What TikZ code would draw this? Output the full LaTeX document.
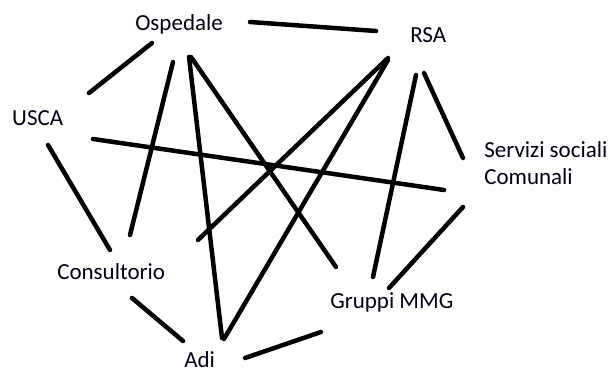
\documentclass[tikz,border=0pt]{standalone}
\usepackage{fontspec}
\setmainfont{Carlito}
\usepackage{tikz}

\begin{document}
\begin{tikzpicture}[x=1pt, y=-1pt, line width=4.5pt, line cap=round,
  every node/.style={inner sep=0pt, anchor=base west, font=\fontsize{23}{27}\selectfont, text=black!92!blue}]

\useasboundingbox (0, 0) rectangle (612, 371);

\node (ospedale) at (133, 31) {Ospedale};
\node (rsa) at (408, 43) {RSA};
\node (usca) at (10, 126) {USCA};
\node [align=left] (servizi) at (482, 185) {Servizi sociali\\Comunali};
\node (consultorio) at (55, 279) {Consultorio};
\node (gruppi) at (328, 308) {Gruppi MMG};
\node (adi) at (182, 367) {Adi};

% ends of the strokes
\coordinate (o-r1) at (250, 22);  \coordinate (o-r2) at (376, 31);
\coordinate (o-u1) at (152, 43);  \coordinate (o-u2) at (89, 93);
\coordinate (o-c1) at (173, 62);  \coordinate (o-c2) at (130, 235);
\coordinate (o-a1) at (189, 57);  \coordinate (o-a2) at (222, 338);
\coordinate (o-g1) at (191, 57);  \coordinate (o-g2) at (336, 267);
\coordinate (r-c1) at (388, 58);  \coordinate (r-c2) at (198, 240);
\coordinate (r-a1) at (388, 60);  \coordinate (r-a2) at (224, 339);
\coordinate (r-g1) at (416, 75);  \coordinate (r-g2) at (373, 277);
\coordinate (r-s1) at (424, 73);  \coordinate (r-s2) at (463, 158);
\coordinate (u-s1) at (93, 139);  \coordinate (u-s2) at (444, 190);
\coordinate (u-c1) at (48, 145);  \coordinate (u-c2) at (110, 250);
\coordinate (c-a1) at (132, 298); \coordinate (c-a2) at (183, 341);
\coordinate (a-g1) at (245, 358); \coordinate (a-g2) at (321, 332);
\coordinate (s-g1) at (463, 207); \coordinate (s-g2) at (389, 288);

\draw (o-r1) -- (o-r2);
\draw (o-u1) -- (o-u2);
\draw (o-c1) -- (o-c2);
\draw (o-a1) -- (o-a2);
\draw (o-g1) -- (o-g2);
\draw (r-c1) -- (r-c2);
\draw (r-a1) -- (r-a2);
\draw (r-g1) -- (r-g2);
\draw (r-s1) -- (r-s2);
\draw (u-s1) -- (u-s2);
\draw (u-c1) -- (u-c2);
\draw (c-a1) -- (c-a2);
\draw (a-g1) -- (a-g2);
\draw (s-g1) -- (s-g2);

\end{tikzpicture}
\end{document}
